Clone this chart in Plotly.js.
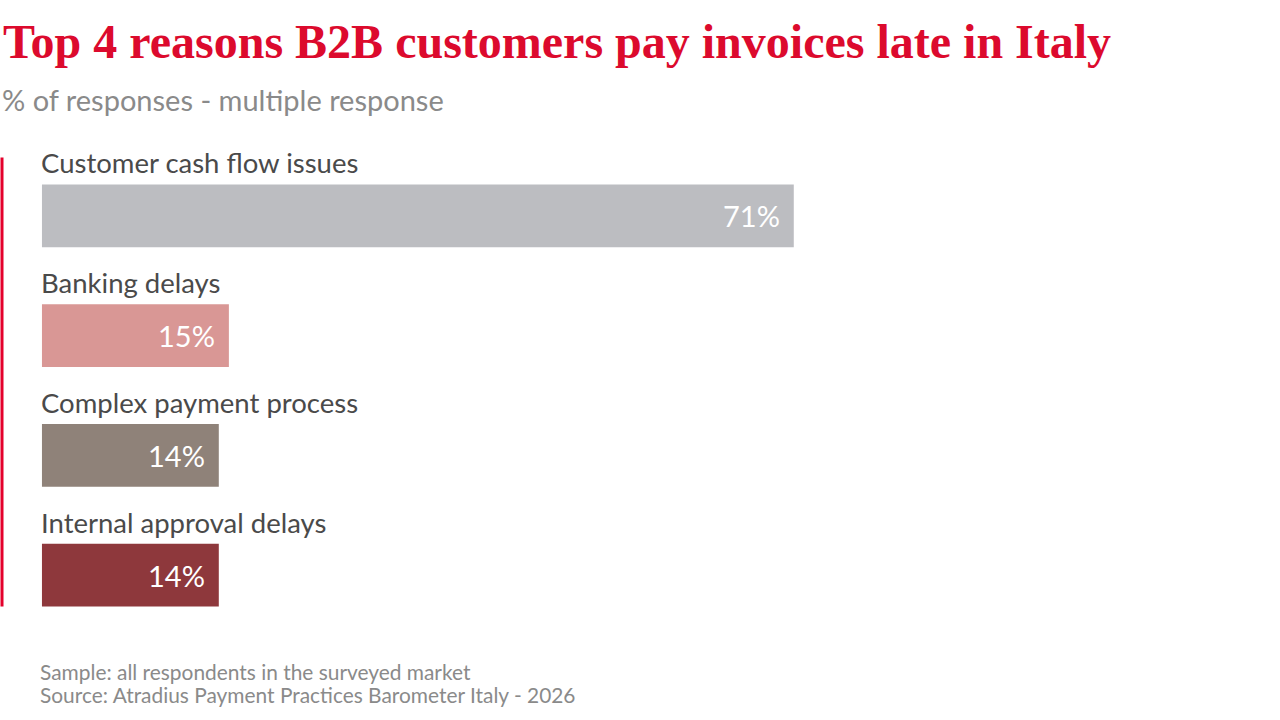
<!DOCTYPE html>
<html>
<head>
<meta charset="utf-8">
<script src="https://cdn.plot.ly/plotly-3.0.1.min.js"></script>
<style>html,body{margin:0;padding:0;background:#fff;}#chart{width:1280px;height:720px;}</style>
</head>
<body>
<div id="chart"></div>
<script>
const categories = ["Customer cash flow issues", "Banking delays", "Complex payment process", "Internal approval delays"];
const values = [71, 15, 14, 14];
const valueLabels = ["71%", "15%", "14%", "14%"];
const barColors = ["#bcbdc1", "#d99795", "#8f8279", "#8e383c"];
const titleText = "Top 4 reasons B2B customers pay invoices late in Italy";
const subtitleText = "% of responses - multiple response";
const footnotes = ["Sample: all respondents in the surveyed market", "Source: Atradius Payment Practices Barometer Italy - 2026"];

// bars start slightly left of zero on the axis and end at their value
const BASE = -3.53;
const labelFont = "Lato, 'Open Sans', sans-serif";

const trace = {
  type: "bar",
  orientation: "h",
  y: categories,
  x: values.map(v => v - BASE),
  base: values.map(() => BASE),
  marker: {color: barColors, line: {width: 0}},
  hoverinfo: "none"
};

const annotations = [];
categories.forEach((c, i) => {
  annotations.push({
    x: BASE, y: c, xref: "x", yref: "y",
    xanchor: "left", yanchor: "middle", yshift: 53, xshift: -3,
    text: c, showarrow: false,
    font: {family: labelFont, size: 27.5, color: "#4a4a4a"}
  });
  annotations.push({
    x: values[i], y: c, xref: "x", yref: "y",
    xanchor: "right", yanchor: "middle", xshift: -12, yshift: 0,
    text: valueLabels[i], showarrow: false,
    font: {family: labelFont, size: 29, color: "#ffffff"}
  });
});
annotations.push({
  x: 0, y: (635.5 - 99) / 480, xref: "paper", yref: "paper",
  xanchor: "left", yanchor: "middle", xshift: 0,
  text: subtitleText, showarrow: false,
  font: {family: labelFont, size: 29, color: "#8a8a8a"}
});
footnotes.forEach((f, i) => {
  annotations.push({
    x: 40 / 1280, y: (635.5 - (672 + 23 * i)) / 480, xref: "paper", yref: "paper",
    xanchor: "left", yanchor: "middle", xshift: -2,
    text: f, showarrow: false,
    font: {family: labelFont, size: 20.9, color: "#8a8a8a"}
  });
});

const layout = {
  width: 1280, height: 720,
  margin: {l: 0, r: 0, t: 155.5, b: 84.5},
  paper_bgcolor: "#ffffff", plot_bgcolor: "#ffffff",
  title: {
    text: titleText,
    x: 3 / 1280, xref: "paper", xanchor: "left",
    y: 1 - 41 / 720, yref: "container", yanchor: "middle",
    font: {family: "'Liberation Serif', serif", size: 48, color: "#dc0a2d", weight: "bold"}
  },
  showlegend: false,
  bargap: 0.475,
  xaxis: {range: [-7.69, 119.2], visible: false, fixedrange: true},
  yaxis: {range: [3.5, -0.5], autorange: false, visible: false, fixedrange: true, type: "category"},
  shapes: [{
    type: "line", xref: "paper", yref: "paper",
    x0: 2 / 1280, x1: 2 / 1280,
    y0: (635.5 - 607) / 480, y1: (635.5 - 157) / 480,
    line: {color: "#e4002b", width: 3}
  }],
  annotations: annotations
};

Plotly.newPlot("chart", [trace], layout, {displayModeBar: false, staticPlot: true});
</script>
</body>
</html>
